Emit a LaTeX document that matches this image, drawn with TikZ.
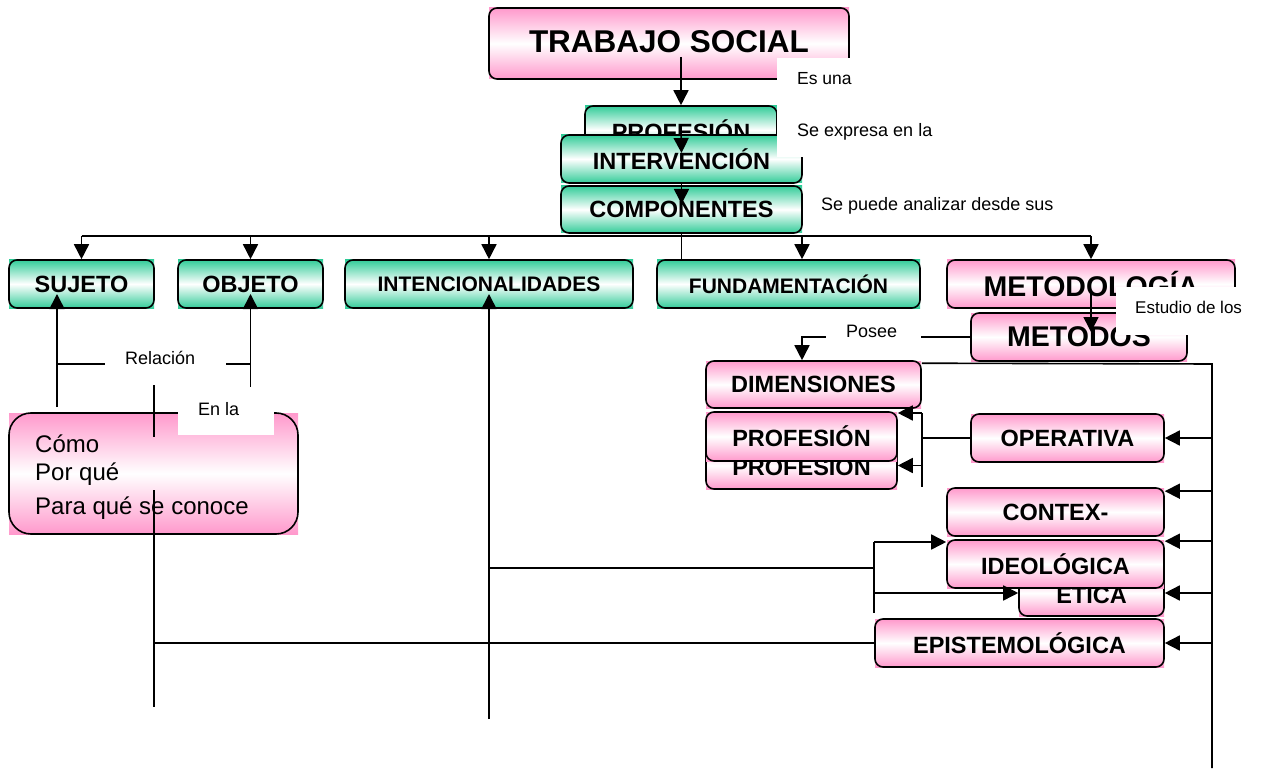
\documentclass[tikz,border=0pt]{standalone}
\usepackage{fontspec}
\setmainfont{Liberation Sans}
\usetikzlibrary{arrows.meta,calc}
\definecolor{grn}{RGB}{51,204,153}
\definecolor{pnk}{RGB}{255,153,204}
\newcommand\fb[1]{\fontsize{#1}{#1}\selectfont\bfseries}
\newcommand\fr[1]{\fontsize{#1}{#1}\selectfont}
% name, cx, cy, w, h, colour, font size, text
\newcommand\cbox[8]{%
  \shade[top color=#6,bottom color=#6,middle color=white]
    ({#2-#4/2},{#3-#5/2}) rectangle ({#2+#4/2},{#3+#5/2});
  \node[boxst,minimum width=#4,minimum height=#5,font=\fb{#7}] (#1) at (#2,#3) {#8};}
\begin{document}
\begin{tikzpicture}[x=1pt,y=-1pt,
  boxst/.style={draw,line width=1.6pt,rounded corners=8pt,inner sep=0pt},
  ln/.style={line width=1.6pt},
  arr/.style={line width=1.6pt,-{Triangle[length=15pt,width=15pt]}},
  lbl/.style={anchor=base west,inner sep=0pt}]
\useasboundingbox (0,0) rectangle (1264,770);

% ---------- boxes ----------
\cbox{trabajo}{669}{43.5}{360}{71}{pnk}{31.5}{\raisebox{3.5pt}{TRABAJO SOCIAL}}
\cbox{prof1}{681}{130}{192}{48}{grn}{23.5}{PROFESIÓN}
\cbox{interv}{681.5}{159}{241}{48}{grn}{23.5}{INTERVENCIÓN}
\cbox{comp}{681.5}{209.5}{241}{47}{grn}{23.5}{COMPONENTES}
\cbox{sujeto}{81.5}{284}{145}{48}{grn}{23.5}{SUJETO}
\cbox{objeto}{250.5}{284}{145}{48}{grn}{23.5}{OBJETO}
\cbox{intenc}{489}{284}{288}{48}{grn}{21}{INTENCIONALIDADES}
\cbox{fund}{788.5}{284}{263}{48}{grn}{21}{FUNDAMENTACIÓN}
\cbox{metodol}{1091}{284}{288}{48}{pnk}{28.5}{\raisebox{-4pt}{METODOLOGÍA}}
\cbox{metodos}{1079}{337}{216}{48}{pnk}{28.5}{METODOS}
\cbox{dim}{813.5}{384.5}{215}{47}{pnk}{23.5}{DIMENSIONES}
\cbox{prof3}{801.5}{465.5}{191}{47}{pnk}{23.5}{PROFESIÓN}
\cbox{prof2}{801.5}{436.5}{191}{49}{pnk}{23.5}{PROFESIÓN}
\cbox{oper}{1067.5}{438}{193}{48}{pnk}{23.5}{OPERATIVA}
\cbox{contex}{1055.5}{512}{217}{48}{pnk}{23.5}{CONTEX-}
\cbox{etica}{1091.5}{593}{145}{46}{pnk}{23.5}{ÉTICA}
\cbox{ideo}{1055.5}{564}{217}{48}{pnk}{23.5}{IDEOLÓGICA}
\cbox{epis}{1019.5}{643}{289}{48}{pnk}{23.5}{EPISTEMOLÓGICA}

% Como box
\shade[top color=pnk,bottom color=pnk,middle color=white] (9,413) rectangle (298,534);
\node[boxst,rounded corners=22pt,minimum width=289,minimum height=121] (como) at (153.5,473.5) {};
\node[lbl,font=\fr{24}] (como1) at (35,452) {Cómo};
\node[lbl,font=\fr{24}] (como2) at (35,480) {Por qué};
\node[lbl,font=\fr{24}] (como3) at (35,514) {Para qué se conoce};

% ---------- connectors ----------
\draw[arr] ($(prof1.north |- trabajo.center)+(0,13.5)$) -- (prof1.north);
\draw[arr] ($(prof1.center)+(0,-2)$) -- ($(interv.center)+(0,-6)$);
\draw[arr] (interv.south) -- ($(comp.center)+(0,-5.5)$);
\draw[ln] (comp.south) -- ++(0,25);
\coordinate (hb) at (0,236);
\draw[ln] (sujeto.north |- hb) -- (metodol.north |- hb);
\foreach \n in {sujeto,objeto,intenc,metodol} \draw[arr] (\n.north |- hb) -- (\n.north);
\draw[arr] ($(fund.north |- hb)+(13.5,0)$) -- ($(fund.north)+(13.5,0)$);

% left side
\coordinate (sj) at (57,407);
\draw[arr] (sj) -- ($(sujeto.center -| sj)+(0,10)$);
\draw[arr] (objeto.center |- como.north) -- ($(objeto.center)+(0,10)$);
\draw[arr] ($(intenc.center)+(0,435)$) -- ($(intenc.center)+(0,10)$);
\coordinate (rl) at (57,364);
\coordinate (rr) at (250.5,364);
\draw[ln] (rl) -- (rr);
\coordinate (v1) at (154,364);
\coordinate (v2) at (154,437);
\coordinate (v3) at (154,490);
\coordinate (v4) at (154,707);
\draw[ln] (v1) -- (v2);
\draw[ln] (v3) -- (v4);
\draw[ln] (epis.west) -- (epis.west -| v3);

% intencionalidades to ideologica / etica
\coordinate (bk) at (874,568);
\coordinate (bk1) at (874,542);
\coordinate (bk2) at (874,593);
\coordinate (bk3) at (874,613);
\draw[ln] ($(intenc.center)+(0,284)$) -- (bk);
\draw[ln] (bk1) -- (bk3);
\draw[arr] (bk1) -- (bk1 -| ideo.west);
\draw[arr] (bk2) -- (etica.west);

% metodologia
\draw[arr] ($(metodol.center)+(0,9)$) -- ($(metodos.center -| metodol.center)+(0,-5)$);
\draw[arr] (metodos.west) -| ($(dim.north)+(-11.5,0)$);

% right side
\coordinate (rt) at (1212,364);
\coordinate (rb) at (1212,768);
\draw[ln] ($(dim.north east)+(0,3)$) -- (rt) -- (rb);
\draw[arr] (oper.east -| rt) -- (oper.east);
\draw[arr] ($(contex.north east -| rt)+(0,4)$) -- ($(contex.north east)+(0,4)$);
\draw[arr] ($(ideo.north east -| rt)+(0,2)$) -- ($(ideo.north east)+(0,2)$);
\draw[arr] (etica.east -| rt) -- (etica.east);
\draw[arr] (epis.east -| rt) -- (epis.east);

% operativa to profesion boxes
\coordinate (pb) at (922,413);
\coordinate (pb2) at (922,487);
\draw[ln] (oper.west) -- (oper.west -| pb);
\draw[ln] (pb) -- (pb2);
\draw[arr] (pb) -- (pb -| prof2.east);
\draw[arr] (prof3.east -| pb) -- (prof3.east);

% ---------- label covers ----------
\fill[white] (777,58) rectangle (960,157);
\fill[white] (105,340) rectangle (226,385);
\fill[white] (178,387) rectangle (274,435);
\fill[white] (826,318) rectangle (921,350);
\fill[white] (1116,287) rectangle (1264,335);

\node[lbl,font=\fr{17.5}] (l1) at (797,85) {Es una};
\node[lbl,font=\fr{18}] (l2) at (797,137) {Se expresa en la};
\node[lbl,font=\fr{18}] (l3) at (821,211) {Se puede analizar desde sus};
\node[lbl,font=\fr{18}] (l4) at (125,364) {Relación};
\node[lbl,font=\fr{18}] (l5) at (198,415) {En la};
\node[lbl,font=\fr{18}] (l6) at (846,337) {Posee};
\node[lbl,font=\fr{17}] (l7) at (1135,313) {Estudio de los};
\end{tikzpicture}
\end{document}
